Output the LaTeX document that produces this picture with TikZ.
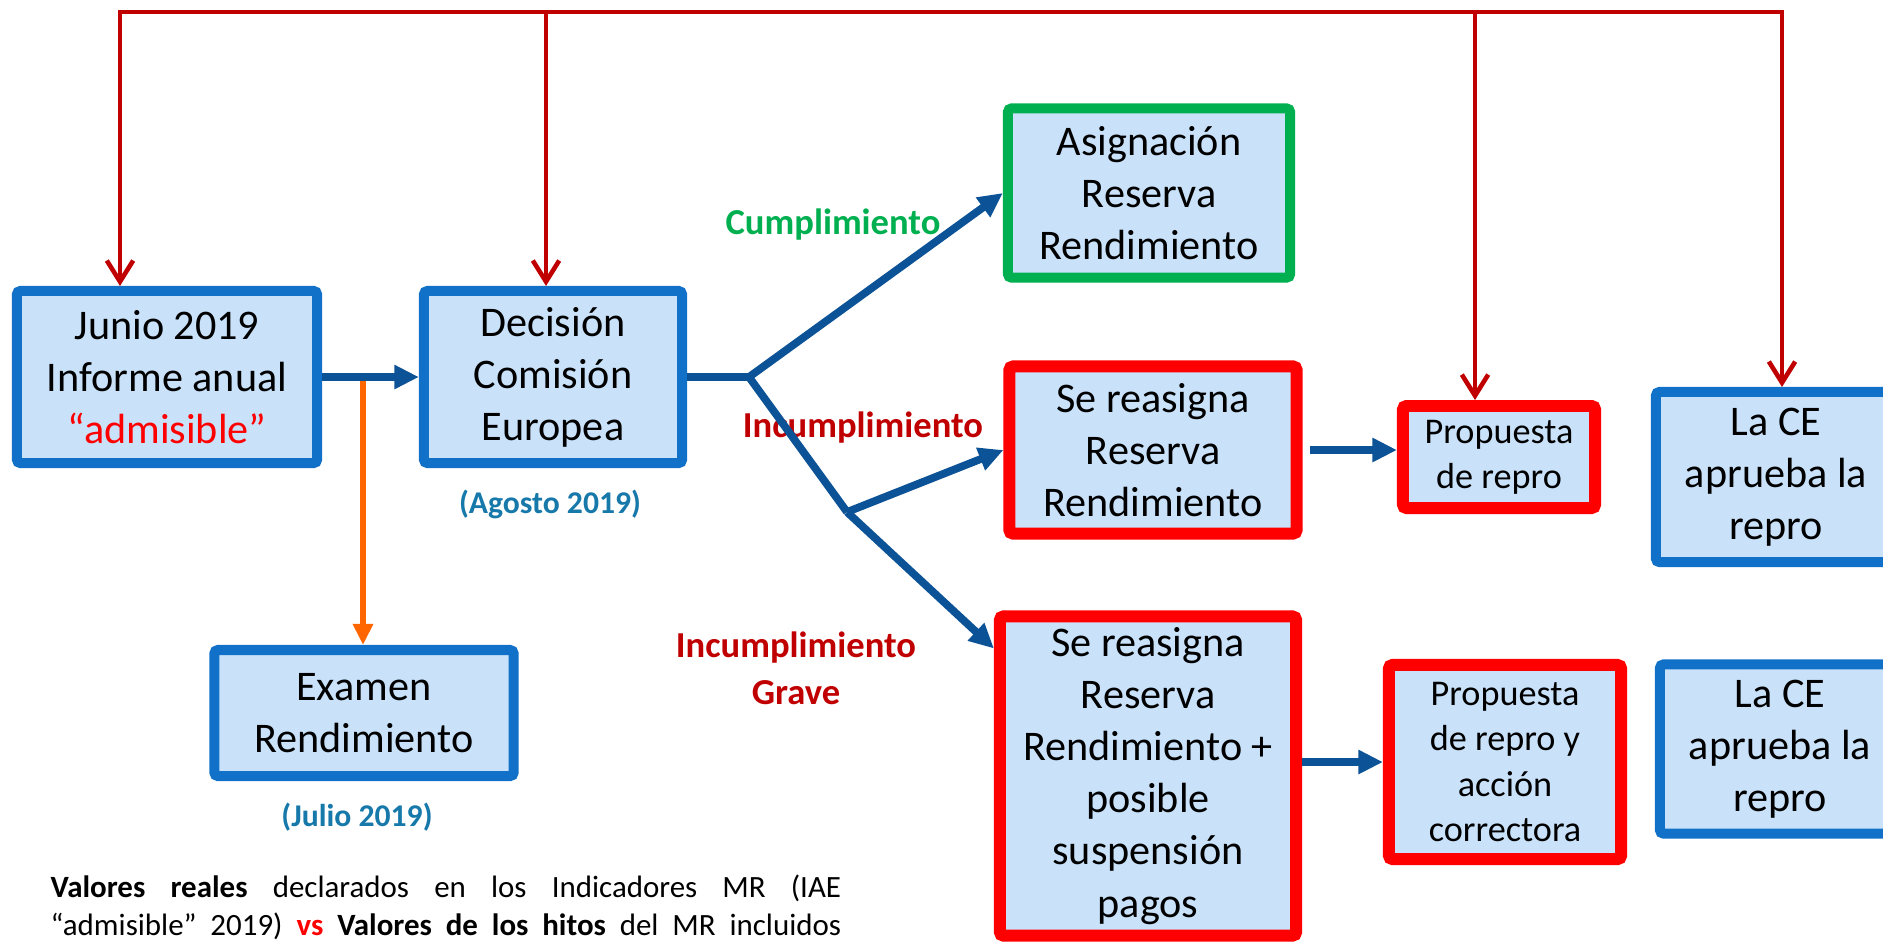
\documentclass[tikz,border=0pt]{standalone}
\usepackage{fontspec}
\setmainfont{Carlito}
\usepackage{xcolor}
\usetikzlibrary{arrows.meta,positioning}

\definecolor{boxblue}{RGB}{17,112,199}
\definecolor{boxfill}{RGB}{201,226,250}
\definecolor{boxred}{RGB}{255,0,0}
\definecolor{boxgreen}{RGB}{0,176,80}
\definecolor{linkred}{RGB}{192,0,0}
\definecolor{linknavy}{RGB}{12,82,150}
\definecolor{linkorange}{RGB}{255,102,0}
\definecolor{datecol}{RGB}{23,120,170}

\begin{document}
\begin{tikzpicture}[
    x=0.01cm, y=-0.01cm,
    head/.tip={Triangle[length=7pt,width=6.5pt]},
    barb/.tip={Straight Barb[length=6pt,width=7.5pt]},
    box/.style={rectangle, draw=boxblue, fill=boxfill, line width=2.85pt, rounded corners=1pt, align=center, inner sep=0pt, font=\fontsize{12}{14.8}\selectfont},
    okbox/.style={box, draw=boxgreen},
    badbox/.style={box, draw=boxred, line width=3.4pt},
    smallbox/.style={badbox, font=\fontsize{10.3}{12.9}\selectfont},
    flow/.style={draw=linknavy, line width=2.2pt, -head},
    branch/.style={draw=linknavy, line width=2.2pt},
    back/.style={draw=linkred, line width=1.3pt, -barb},
    exam/.style={draw=linkorange, line width=1.7pt, -{Triangle[length=6pt,width=5.5pt]}},
    result/.style={font=\bfseries\fontsize{10.4}{13.3}\selectfont, align=center, inner sep=0pt},
    date/.style={font=\bfseries\fontsize{9}{11}\selectfont, text=datecol, inner sep=0pt}
]
    \useasboundingbox (0,0) rectangle (1883,941);
    \clip (0,0) rectangle (1883,941);

    % Left part
    \node[box, minimum width=3.00cm, minimum height=1.72cm] (junio) at (167,377) {Junio 2019\\Informe anual\\\textcolor{boxred}{“admisible”}};
    \node[box, minimum width=2.58cm, minimum height=1.72cm] (decision) at (553,377) {Decisión\\Comisión\\Europea};
    \node[box, minimum width=2.99cm, minimum height=1.26cm] (examen) at (364,713) {Examen\\Rendimiento};
    \node[date] (agosto) at (550,504) {(Agosto 2019)};
    \node[date] (julio) at (357,817) {(Julio 2019)};

    % Outcomes
    \node[okbox, minimum width=2.82cm, minimum height=1.69cm] (asign) at (1149,193) {Asignación\\Reserva\\Rendimiento};
    \node[badbox, minimum width=2.87cm, minimum height=1.67cm] (se1) at (1153,450) {Se reasigna\\Reserva\\Rendimiento};
    \node[badbox, minimum width=2.96cm, minimum height=3.19cm] (se2) at (1148,776) {Se reasigna\\Reserva\\Rendimiento +\\posible\\suspensión\\pagos};
    \node[smallbox, minimum width=1.92cm, minimum height=1.02cm] (prop1) at (1499,457) {Propuesta\\de repro};
    \node[smallbox, minimum width=2.32cm, minimum height=1.94cm] (prop2) at (1505,762) {Propuesta\\de repro y\\acción\\correctora};
    \node[box, minimum width=2.40cm, minimum height=1.70cm] (lace1) at (1776,477) {La CE\\aprueba la\\repro};
    \node[box, minimum width=2.40cm, minimum height=1.69cm] (lace2) at (1780,749) {La CE\\aprueba la\\repro};

    % Labels
    \node[result, text=boxgreen] (cumpl) at (833,225) {Cumplimiento};
    \node[result, text=linkred] (incumpl) at (863,428) {Incumplimiento};
    \node[result, text=linkred] (grave) at (796,668) {Incumplimiento\\Grave};

    \node[anchor=north west, align=left, inner sep=0pt, font=\fontsize{8.8}{10.8}\selectfont] (nota) at (50,874)
        {\hbox to 7.90cm{\textbf{Valores reales} declarados en los Indicadores MR (IAE}\\
         \hbox to 7.90cm{“admisible” 2019) \textcolor{boxred}{\textbf{vs}} \textbf{Valores de los hitos} del MR incluidos}};

    % Connectors
    \coordinate (tap) at (363,379);
    \draw[exam] (tap) -- (tap |- examen.north);
    \draw[flow] (junio) -- (decision);
    \coordinate (split) at (749,377);
    \coordinate (split2) at (847,512);
    \coordinate (in2) at ([yshift=-0.38cm]se2.north west);
    \draw[branch] (decision.east) -- (split) -- (split2);
    \draw[flow] (split) -- (asign.west);
    \draw[flow] (split2) -- (se1.west);
    \draw[flow] (split2) -- (in2);
    \draw[flow] ([xshift=2pt]se1.east) -- (prop1.west |- se1.east);
    \draw[flow] (se2.east |- prop2.west) -- (prop2.west);

    % Feedback line on top
    \coordinate (fb1) at (120,12);
    \coordinate (fb2) at (546,12);
    \coordinate (fb3) at (1475,12);
    \coordinate (fb4) at (1782,12);
    \draw[back, barb-barb] (fb1 |- junio.north) -- (fb1) -- (fb4) -- (fb4 |- lace1.north);
    \draw[back] (fb2) -- (fb2 |- decision.north);
    \draw[back] (fb3) -- (fb3 |- prop1.north);
\end{tikzpicture}
\end{document}
